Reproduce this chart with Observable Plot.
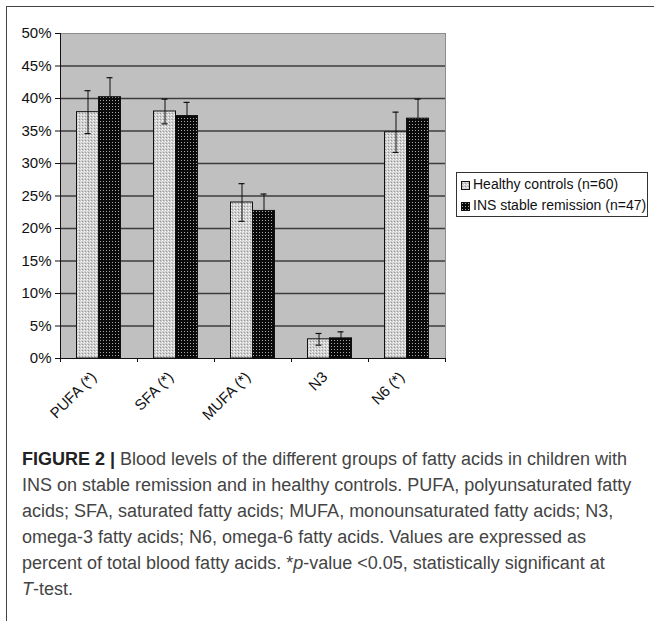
<!DOCTYPE html>
<html>
<head>
<meta charset="utf-8">
<script src="https://cdn.jsdelivr.net/npm/d3@7"></script>
<script src="https://cdn.jsdelivr.net/npm/@observablehq/plot@0.6"></script>
<style>
  html, body { margin: 0; padding: 0; background: #fff; }
  #wrap { position: relative; width: 654px; height: 621px; overflow: hidden; background: #fff; }
  #frame { position: absolute; left: 6px; top: 6px; width: 660px; height: 640px; border-top: 1.5px solid #444; border-left: 1.5px solid #444; }
  #chart { position: absolute; left: 0; top: 0; }
  #legend { position: absolute; left: 456px; top: 172px; width: 190px; height: 43px; border: 1px solid #333; background: #fff;
            font-family: "Liberation Sans", Arial, sans-serif; font-size: 14px; color: #111; }
  #legend .row { position: absolute; left: 4px; height: 20px; line-height: 20px; white-space: nowrap; }
  #legend svg { vertical-align: -1px; margin-right: 3px; }
  #caption { position: absolute; left: 22px; top: 446px; font-family: "Liberation Sans", Arial, sans-serif; font-size: 18px; color: #444; }
  #caption div { height: 26px; line-height: 26px; white-space: nowrap; }
  #caption b { color: #222; }
</style>
</head>
<body>
<div id="wrap">
  <div id="frame"></div>
  <div id="chart"></div>
  <div id="legend"></div>
  <div id="caption"></div>
</div>
<script>
// ---- data ----
const categories = ["PUFA (*)", "SFA (*)", "MUFA (*)", "N3", "N6 (*)"];
const healthyMean = [37.9, 38.0, 24.0, 2.95, 34.8];
const healthySD   = [3.3, 1.9, 2.9, 0.9, 3.1];
const insMean     = [40.2, 37.3, 22.7, 3.1, 36.9];
const insSD       = [3.0, 2.1, 2.6, 1.0, 3.0];
const yTicks = [0, 5, 10, 15, 20, 25, 30, 35, 40, 45, 50];
const seriesNames = ["Healthy controls (n=60)", "INS stable remission (n=47)"];
const captionLines = [
  "<b>FIGURE 2 |</b> Blood levels of the different groups of fatty acids in children with",
  "INS on stable remission and in healthy controls. PUFA, polyunsaturated fatty",
  "acids; SFA, saturated fatty acids; MUFA, monounsaturated fatty acids; N3,",
  "omega-3 fatty acids; N6, omega-6 fatty acids. Values are expressed as",
  "percent of total blood fatty acids. *<i>p</i>-value &lt;0.05, statistically significant at",
  "<i>T</i>-test."
];

const healthy = categories.map((c, i) => ({cat: c, mean: healthyMean[i], sd: healthySD[i]}));
const ins = categories.map((c, i) => ({cat: c, mean: insMean[i], sd: insSD[i]}));

const patternDefs = (suffix) => `
  <pattern id="pH${suffix}" patternUnits="userSpaceOnUse" width="3" height="3">
    <rect width="3" height="3" fill="#cdcdcd"/>
    <rect x="0" y="0" width="1" height="1" fill="#ffffff"/>
    <rect x="1" y="2" width="1" height="1" fill="#9a9a9a"/>
    <rect x="2" y="1" width="1" height="1" fill="#e8e8e8"/>
  </pattern>
  <pattern id="pI${suffix}" patternUnits="userSpaceOnUse" width="3" height="3">
    <rect width="3" height="3" fill="#0a0a0a"/>
    <rect x="1" y="1" width="1" height="1" fill="#a8a8a8"/>
  </pattern>`;

const bw = 77; // band width in px (range 60..445, 5 bands)

const chart = Plot.plot({
  width: 654,
  height: 430,
  marginLeft: 60,
  marginRight: 209,
  marginTop: 33,
  marginBottom: 72,
  style: {fontFamily: "Liberation Sans, Arial, sans-serif", fontSize: "15px", color: "#111", background: "transparent"},
  x: {domain: categories, padding: 0, axis: null},
  y: {domain: [0, 50], label: null},
  marks: [
    Plot.frame({fill: "#c0c0c0", stroke: null}),
    Plot.ruleY(yTicks.filter(t => t > 0 && t < 50), {stroke: "#3c3c3c", strokeWidth: 1.5}),
    Plot.barY(healthy, {x: "cat", y: "mean", fill: "url(#pHmain)", stroke: "#111", strokeWidth: 1, insetLeft: 16.5, insetRight: 38.5}),
    Plot.barY(ins, {x: "cat", y: "mean", fill: "url(#pImain)", stroke: "#111", strokeWidth: 1, insetLeft: 38.5, insetRight: 16.5}),
    // error bars – healthy (both directions)
    Plot.ruleX(healthy, {x: "cat", y1: d => d.mean - d.sd, y2: d => d.mean + d.sd, dx: -11, stroke: "#111", strokeWidth: 1}),
    Plot.tickY(healthy, {x: "cat", y: d => d.mean + d.sd, insetLeft: 24.5, insetRight: 46.5, stroke: "#111", strokeWidth: 1.2}),
    Plot.tickY(healthy, {x: "cat", y: d => d.mean - d.sd, insetLeft: 24.5, insetRight: 46.5, stroke: "#111", strokeWidth: 1.2}),
    // error bars – INS (upper part visible)
    Plot.ruleX(ins, {x: "cat", y1: "mean", y2: d => d.mean + d.sd, dx: 11, stroke: "#111", strokeWidth: 1}),
    Plot.tickY(ins, {x: "cat", y: d => d.mean + d.sd, insetLeft: 46.5, insetRight: 24.5, stroke: "#111", strokeWidth: 1.2}),
    // plot area border
    Plot.frame({stroke: "#8c8c8c", strokeWidth: 1}),
    // axis lines
    Plot.ruleY([0], {stroke: "#111", strokeWidth: 1}),
    Plot.ruleX([categories[0]], {x: d => d, dx: -bw / 2, y1: 0, y2: 50, stroke: "#111", strokeWidth: 1}),
    // category boundary ticks
    Plot.ruleX(categories, {x: d => d, dx: -bw / 2, y1: 0, y2: 0, insetBottom: -4, stroke: "#111"}),
    Plot.ruleX([categories[categories.length - 1]], {x: d => d, dx: bw / 2, y1: 0, y2: 0, insetBottom: -4, stroke: "#111"}),
    Plot.axisY({ticks: yTicks, tickFormat: d => d + "%", tickSize: 5, tickPadding: 4, fontSize: 15, label: null}),
    Plot.text(categories, {x: d => d, y: 0, dy: 16, dx: -5, rotate: -45, textAnchor: "end", fontSize: 15, fill: "#111"})
  ]
});

const defs = document.createElementNS("http://www.w3.org/2000/svg", "defs");
defs.innerHTML = patternDefs("main");
chart.insertBefore(defs, chart.firstChild);
document.getElementById("chart").appendChild(chart);

// legend
const legend = document.getElementById("legend");
const sw = (id) => `<svg width="9" height="9"><defs>${patternDefs("lg" + id)}</defs><rect x="0.5" y="0.5" width="8" height="8" fill="url(#p${id}lg${id})" stroke="#111" stroke-width="1"/></svg>`;
legend.innerHTML =
  `<div class="row" style="top:1px">${sw("H")}${seriesNames[0]}</div>` +
  `<div class="row" style="top:22px">${sw("I")}${seriesNames[1]}</div>`;

// caption
document.getElementById("caption").innerHTML = captionLines.map(l => `<div>${l}</div>`).join("");
</script>
</body>
</html>
